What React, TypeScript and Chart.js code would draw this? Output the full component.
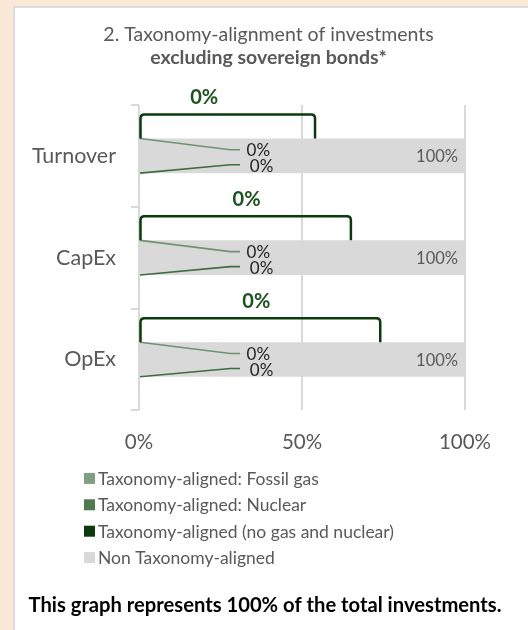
import React, { useEffect, useRef } from 'react';
import { Chart, registerables } from 'chart.js';

Chart.register(...registerables);

// ---- data ----
const categories = ['Turnover', 'CapEx', 'OpEx'];
const fossilGas = [0, 0, 0];
const nuclear = [0, 0, 0];
const alignedNoGasNuclear = [0, 0, 0];
const nonAligned = [100, 100, 100];
const xTickValues = [0, 50, 100];

const seriesLabels = [
  'Taxonomy-aligned: Fossil gas',
  'Taxonomy-aligned: Nuclear',
  'Taxonomy-aligned (no gas and nuclear)',
  'Non Taxonomy-aligned',
];

// ---- callout layout (in axis units, annotation placement only) ----
const bracketEndAt = [54, 65, 74];
const bracketLabelAt = [20, 33, 36];

const FONT = 'Lato, "Open Sans", sans-serif';
const GREY_TEXT = '#595959';
const COLORS = ['#7F9F82', '#4E7A50', '#0A3C0B', '#D9D9D9'];
const LEADER_COLORS = ['#6F9270', '#3F6D40'];

const annotatePlugin = {
  id: 'annotate',
  afterDatasetsDraw(chart: any) {
    const { ctx } = chart;
    const x = chart.scales.x;
    const metaNon = chart.getDatasetMeta(3);
    ctx.save();
    categories.forEach((_, i) => {
      const bar = metaNon.data[i];
      const p = bar.getProps(['x', 'y', 'height', 'base'], true);
      const cy = p.y;
      const top = cy - p.height / 2;
      const bottom = cy + p.height / 2;

      // non-aligned value label
      ctx.font = `16.5px ${FONT}`;
      ctx.fillStyle = GREY_TEXT;
      ctx.textAlign = 'right';
      ctx.textBaseline = 'middle';
      ctx.fillText(`${nonAligned[i]}%`, p.x - 7, cy + 1);

      // fossil gas leader
      const fx = x.getPixelForValue(fossilGas[i] / 2) + 1;
      const elbowX = x.getPixelForValue(28);
      const endX = x.getPixelForValue(31);
      ctx.lineWidth = 1.6;
      ctx.strokeStyle = LEADER_COLORS[0];
      ctx.beginPath();
      ctx.moveTo(fx, top);
      ctx.lineTo(elbowX, cy - 6);
      ctx.lineTo(endX, cy - 6);
      ctx.stroke();
      ctx.font = `17px ${FONT}`;
      ctx.fillStyle = '#1F1F1F';
      ctx.textAlign = 'left';
      ctx.fillText(`${fossilGas[i]}%`, x.getPixelForValue(33), cy - 5);

      // nuclear leader
      const nx = x.getPixelForValue(fossilGas[i] + nuclear[i] / 2) + 1;
      ctx.strokeStyle = LEADER_COLORS[1];
      ctx.beginPath();
      ctx.moveTo(nx, bottom);
      ctx.lineTo(elbowX, cy + 9);
      ctx.lineTo(endX, cy + 9);
      ctx.stroke();
      ctx.fillText(`${nuclear[i]}%`, x.getPixelForValue(34), cy + 11);

      // aligned bracket callout
      const ax = x.getPixelForValue(fossilGas[i] + nuclear[i] + alignedNoGasNuclear[i] / 2) + 1.5;
      const bx = x.getPixelForValue(bracketEndAt[i]);
      const bTop = top - 24;
      const r = 4;
      ctx.strokeStyle = COLORS[2];
      ctx.lineWidth = 2.5;
      ctx.beginPath();
      ctx.moveTo(ax, top);
      ctx.lineTo(ax, bTop + r);
      ctx.quadraticCurveTo(ax, bTop, ax + r, bTop);
      ctx.lineTo(bx - r, bTop);
      ctx.quadraticCurveTo(bx, bTop, bx, bTop + r);
      ctx.lineTo(bx, top);
      ctx.stroke();
      ctx.font = `bold 20px ${FONT}`;
      ctx.fillStyle = '#1B541C';
      ctx.textAlign = 'center';
      ctx.fillText(`${alignedNoGasNuclear[i]}%`, x.getPixelForValue(bracketLabelAt[i]), top - 41);
    });
    ctx.restore();
  },
  afterDraw(chart: any) {
    const { ctx } = chart;
    const base = chart.chartArea.bottom;
    ctx.save();
    chart.data.datasets.forEach((ds: any, i: number) => {
      const cy = base + 68 + i * 26.4;
      ctx.fillStyle = ds.backgroundColor;
      ctx.fillRect(69, cy - 5.5, 11, 11);
      ctx.font = `17.5px ${FONT}`;
      ctx.fillStyle = GREY_TEXT;
      ctx.textAlign = 'left';
      ctx.textBaseline = 'middle';
      ctx.fillText(ds.label, 83, cy + 1);
    });
    ctx.font = `bold 20.2px ${FONT}`;
    ctx.fillStyle = '#000000';
    ctx.textAlign = 'center';
    ctx.fillText('This graph represents 100% of the total investments.', 250, base + 195);
    ctx.restore();
  },
};

export default function App() {
  const ref = useRef<HTMLCanvasElement>(null);
  useEffect(() => {
    if (!ref.current) return;
    const series = [fossilGas, nuclear, alignedNoGasNuclear, nonAligned];
    const chart = new Chart(ref.current, {
      type: 'bar',
      data: {
        labels: categories,
        datasets: series.map((d, i) => ({
          label: seriesLabels[i],
          data: d,
          backgroundColor: COLORS[i],
          borderWidth: 0,
          barPercentage: 0.34,
          categoryPercentage: 1,
        })),
      },
      options: {
        indexAxis: 'y',
        responsive: false,
        animation: false,
        layout: { padding: { left: 57, right: 63, top: 0, bottom: 155 } },
        plugins: {
          legend: { display: false },
          tooltip: { enabled: false },
          title: {
            display: true,
            text: '2. Taxonomy-alignment of investments',
            color: GREY_TEXT,
            font: { family: FONT, size: 19.5, weight: 'normal', lineHeight: 1.1 },
            padding: { top: 16, bottom: 2 },
          },
          subtitle: {
            display: true,
            text: 'excluding sovereign bonds*',
            color: GREY_TEXT,
            font: { family: FONT, size: 19.5, weight: 'bold', lineHeight: 1.1 },
            padding: { top: 0, bottom: 36 },
          },
        },
        scales: {
          x: {
            stacked: true,
            min: 0,
            max: 100,
            afterBuildTicks: (s: any) => {
              s.ticks = xTickValues.map((v) => ({ value: v }));
            },
            ticks: {
              callback: (v: any) => `${v}%`,
              color: GREY_TEXT,
              font: { family: FONT, size: 20.5 },
              padding: 20,
            },
            grid: { color: '#D9D9D9', lineWidth: 2, drawTicks: false },
            border: { display: false },
          },
          y: {
            stacked: true,
            afterFit: (s: any) => {
              s.width = 67;
              s._computeLabelArea = () => undefined;
            },
            ticks: {
              color: GREY_TEXT,
              font: { family: FONT, size: 21.5 },
              padding: 15,
            },
            grid: {
              color: '#D9D9D9',
              lineWidth: 2,
              drawOnChartArea: false,
              drawTicks: true,
              tickLength: 8,
            },
            border: { display: false },
          },
        },
      },
      plugins: [annotatePlugin],
    });
    return () => chart.destroy();
  }, []);

  return (
    <div style={{ position: 'absolute', left: 0, top: 0, width: 528, height: 630, background: '#FBE9D8', overflow: 'hidden' }}>
      <div
        style={{
          position: 'absolute',
          left: 13,
          top: 6,
          right: 0,
          bottom: 0,
          background: '#FFFFFF',
          borderLeft: '2px solid #DCDCDC',
          borderTop: '2px solid #DCDCDC',
        }}
      >
        <canvas ref={ref} width={513} height={622} style={{ display: 'block' }} />
      </div>
    </div>
  );
}
